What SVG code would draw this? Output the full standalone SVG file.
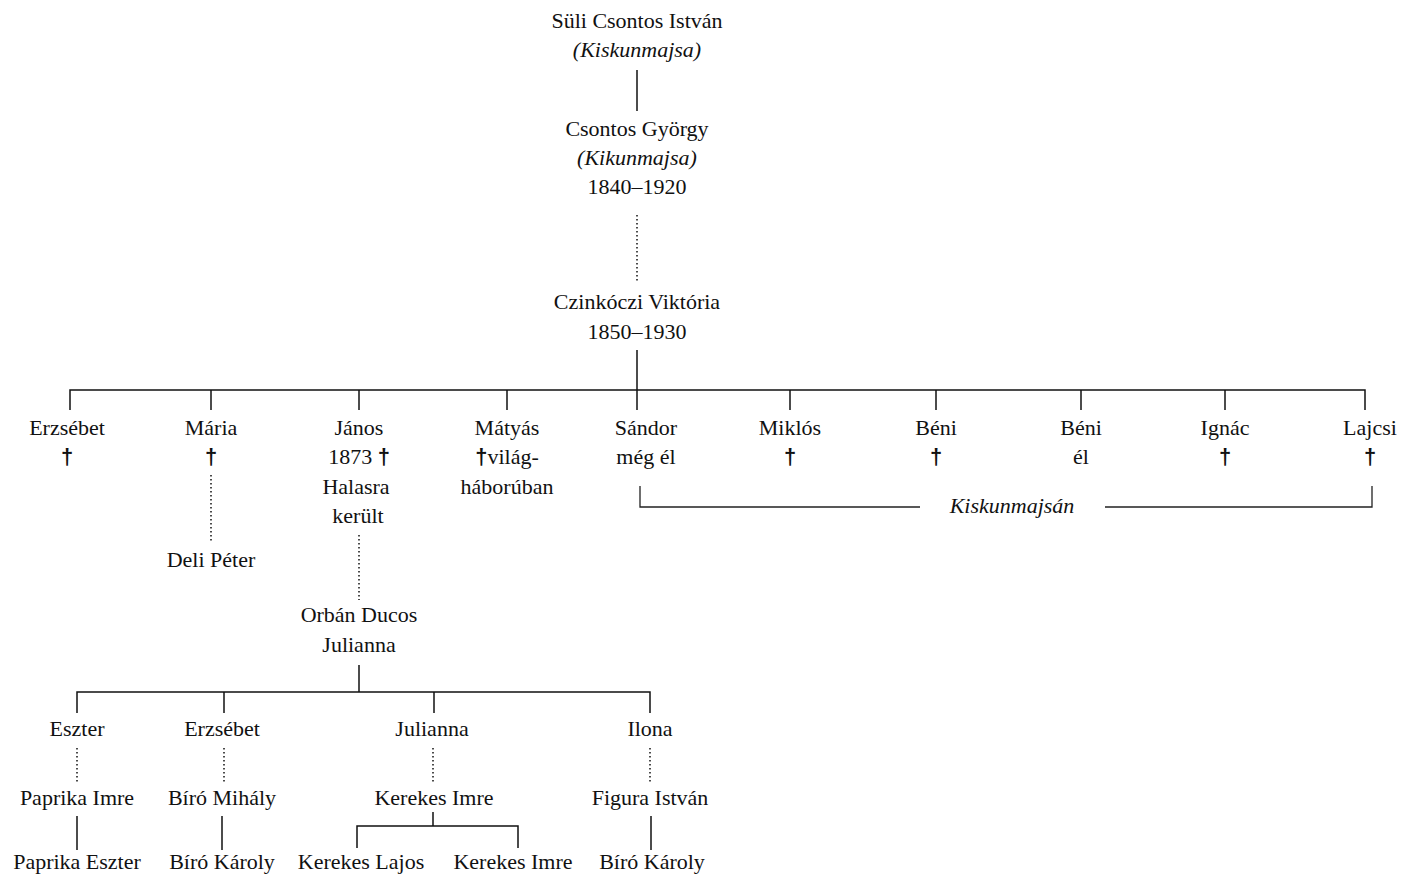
<svg xmlns="http://www.w3.org/2000/svg" width="1401" height="876" viewBox="0 0 1401 876">
<style>
text{font-family:"Liberation Serif","Times New Roman",serif;font-size:22px;fill:#111;text-anchor:middle}
.it{font-style:italic}
.dg{font-family:"Liberation Sans",Arial,sans-serif;font-weight:bold;font-size:22px}
.l{stroke:#111;stroke-width:1.5;fill:none}
.d{stroke:#111;stroke-width:1.5;stroke-dasharray:1.5 2.5;fill:none}
.b{stroke:#222;stroke-width:1.3;fill:none}
</style>
<rect width="1401" height="876" fill="#fff"/>
<g id="connectors">
<line class="l" x1="637" y1="70" x2="637" y2="111"/>
<line class="d" x1="637" y1="215" x2="637" y2="283"/>
<line class="l" x1="637" y1="350" x2="637" y2="410"/>
<polyline class="l" points="70,410 70,390 1365,390 1365,410"/>
<line class="l" x1="211" y1="390" x2="211" y2="410"/>
<line class="l" x1="359" y1="390" x2="359" y2="410"/>
<line class="l" x1="507" y1="390" x2="507" y2="410"/>
<line class="l" x1="790" y1="390" x2="790" y2="410"/>
<line class="l" x1="936" y1="390" x2="936" y2="410"/>
<line class="l" x1="1081" y1="390" x2="1081" y2="410"/>
<line class="l" x1="1225" y1="390" x2="1225" y2="410"/>
<line class="d" x1="211" y1="475" x2="211" y2="541"/>
<line class="d" x1="359" y1="535" x2="359" y2="600"/>
<line class="l" x1="359" y1="665" x2="359" y2="692"/>
<polyline class="l" points="77,713 77,692 650,692 650,713"/>
<line class="l" x1="224" y1="692" x2="224" y2="713"/>
<line class="l" x1="434" y1="692" x2="434" y2="713"/>
<polyline class="b" points="640,486 640,507 920,507"/>
<polyline class="b" points="1105,507 1372,507 1372,486"/>
<line class="d" x1="77" y1="748" x2="77" y2="782"/>
<line class="d" x1="224" y1="748" x2="224" y2="782"/>
<line class="d" x1="433" y1="748" x2="433" y2="782"/>
<line class="d" x1="650" y1="748" x2="650" y2="782"/>
<line class="l" x1="77" y1="816" x2="77" y2="850"/>
<line class="l" x1="222" y1="816" x2="222" y2="850"/>
<line class="l" x1="651" y1="816" x2="651" y2="850"/>
<polyline class="l" points="357,848 357,826 518,826 518,848"/>
<line class="l" x1="433" y1="812" x2="433" y2="826"/>
</g>
<g id="suli"><text x="637" y="28">Süli Csontos István</text><text class="it" x="637" y="57">(Kiskunmajsa)</text></g>
<g id="gyorgy"><text x="637" y="136">Csontos György</text><text class="it" x="637" y="165">(Kikunmajsa)</text><text x="637" y="194">1840–1920</text></g>
<g id="viktoria"><text x="637" y="309">Czinkóczi Viktória</text><text x="637" y="339">1850–1930</text></g>
<g id="erzsebet1"><text x="67" y="435">Erzsébet</text><text class="dg" x="67" y="464">†</text></g>
<g id="maria"><text x="211" y="435">Mária</text><text class="dg" x="211" y="464">†</text></g>
<g id="janos"><text x="359" y="435">János</text><text x="359" y="464">1873 <tspan class="dg">†</tspan></text><text x="356" y="494">Halasra</text><text x="358" y="523">került</text></g>
<g id="matyas"><text x="507" y="435">Mátyás</text><text x="507" y="464"><tspan class="dg">†</tspan>világ-</text><text x="507" y="494">háborúban</text></g>
<g id="sandor"><text x="646" y="435">Sándor</text><text x="646" y="464">még él</text></g>
<g id="miklos"><text x="790" y="435">Miklós</text><text class="dg" x="790" y="464">†</text></g>
<g id="beni1"><text x="936" y="435">Béni</text><text class="dg" x="936" y="464">†</text></g>
<g id="beni2"><text x="1081" y="435">Béni</text><text x="1081" y="464">él</text></g>
<g id="ignac"><text x="1225" y="435">Ignác</text><text class="dg" x="1225" y="464">†</text></g>
<g id="lajcsi"><text x="1370" y="435">Lajcsi</text><text class="dg" x="1370" y="464">†</text></g>
<g id="kiskunmajsan"><text class="it" x="1012" y="513">Kiskunmajsán</text></g>
<g id="deli"><text x="211" y="567">Deli Péter</text></g>
<g id="orban"><text x="359" y="622">Orbán Ducos</text><text x="359" y="652">Julianna</text></g>
<g id="eszter"><text x="77" y="736">Eszter</text></g>
<g id="erzsebet2"><text x="222" y="736">Erzsébet</text></g>
<g id="julianna"><text x="432" y="736">Julianna</text></g>
<g id="ilona"><text x="650" y="736">Ilona</text></g>
<g id="paprika-imre"><text x="77" y="805">Paprika Imre</text></g>
<g id="biro-mihaly"><text x="222" y="805">Bíró Mihály</text></g>
<g id="kerekes-imre"><text x="434" y="805">Kerekes Imre</text></g>
<g id="figura"><text x="650" y="805">Figura István</text></g>
<g id="paprika-eszter"><text x="77" y="869">Paprika Eszter</text></g>
<g id="biro-karoly1"><text x="222" y="869">Bíró Károly</text></g>
<g id="kerekes-lajos"><text x="361" y="869">Kerekes Lajos</text></g>
<g id="kerekes-imre2"><text x="513" y="869">Kerekes Imre</text></g>
<g id="biro-karoly2"><text x="652" y="869">Bíró Károly</text></g>
</svg>
